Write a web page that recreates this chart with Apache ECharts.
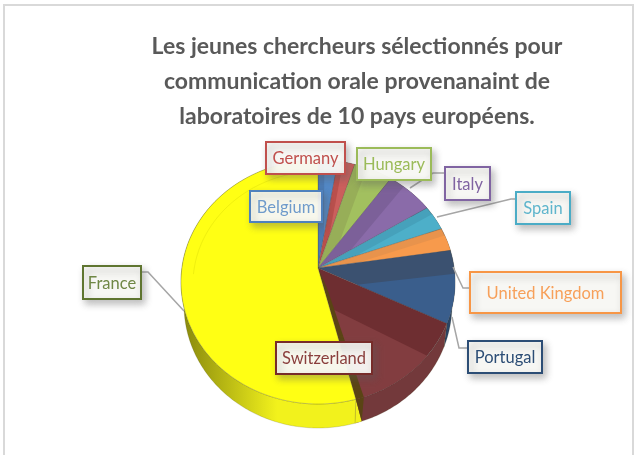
<!DOCTYPE html>
<html>
<head>
<meta charset="utf-8">
<style>
  html, body { margin: 0; background: #fff; }
  #chart { width: 635px; height: 455px; }
</style>
<script src="https://cdn.jsdelivr.net/npm/echarts@6/dist/echarts.min.js"></script>
</head>
<body>
<div id="chart"></div>
<script>
// clockwise from 12 o'clock
const categories = ['Belgium', 'Germany', 'Hungary', 'Italy', 'Spain', 'United Kingdom', 'Portugal', 'Switzerland', 'France']
const values = [2.3, 2.0, 4.6, 5.7, 3.2, 3.0, 9.7, 15.0, 54.4]

const darkColors = ['#4a79b3', '#b94f4c', '#97ae58', '#7c6099', '#46a1bb', '#e8934c', '#3b5170', '#6e2e31', '#ffff14']
const lightColors = ['#5288c6', '#cb5f5c', '#a2c05f', '#8a6ba9', '#4dafc9', '#f79a4c', '#3a5e8c', '#823d40', '#ffff14']
const wallColors = ['#3e6595', '#8c3a38', '#71893f', '#5c4778', '#357f93', '#b66e34', '#2b4565', '#73393b', '#f0f01c']
const labelColors = ['#6f9bcb', '#c0504d', '#9bbb59', '#8064a2', '#5fb5cc', '#f7a05a', '#2c4d75', '#8a3f3d', '#6f8745']

// x, y, w, h of each label box, in the order of categories
const labelBoxes = [
  [250, 191, 72, 31], [266, 142, 79, 32], [357, 148, 74, 32],
  [445, 167, 45, 33], [516, 192, 54, 32], [470, 272, 151, 41],
  [468, 341, 74, 32], [276, 342, 96, 32], [83, 266, 58, 33]
]
const borderColors = ['#4f81bd', '#c0504d', '#9bbb59', '#8064a2', '#4bacc6', '#f79646', '#2c4d75', '#772c2a', '#5f7530']
const leaders = [
  null, null, null,
  [[445, 173], [433, 173], [410, 188]],
  [[516, 199], [511, 199], [437, 217]],
  [[470, 288], [463, 288], [453, 267]],
  [[468, 348], [459, 348], [452, 317]],
  null,
  [[142, 272], [148, 272], [184, 311]]
]

const apex = [318, 268]
const topRim = { cx: 318, cy: 282, rx: 137, ry: 122 }
const lowRim = { cx: 318, cy: 305, rx: 134, ry: 123 }
const ringRim = { cx: 320, cy: 284, rx: 127, ry: 113 }

const total = values.reduce((a, b) => a + b, 0)
const starts = []
values.reduce((sum, v, i) => {
  starts[i] = sum / total * 360
  return sum + v
}, 0)

function rimPoint(rim, deg) {
  const r = deg * Math.PI / 180
  return [rim.cx + rim.rx * Math.sin(r), rim.cy - rim.ry * Math.cos(r)]
}

function arc(rim, from, to) {
  const pts = []
  const n = Math.max(2, Math.ceil(to - from))
  for (let i = 0; i <= n; i++) pts.push(rimPoint(rim, from + (to - from) * i / n))
  return pts
}

function renderWall(params, api) {
  const i = api.value(0)
  const from = starts[i]
  const to = from + api.value(1) / total * 360
  const fill = i === 8
    ? { type: 'linear', x: 0, y: 0, x2: 0.55, y2: 0, colorStops: [{ offset: 0, color: '#86860c' }, { offset: 1, color: '#f2f21c' }] }
    : wallColors[i]
  const children = [{
    type: 'polygon',
    shape: { points: arc(topRim, from, to).concat(arc(lowRim, from, to).reverse()) },
    style: { fill: fill, stroke: 'rgba(60,60,20,0.35)', lineWidth: 0.5 }
  }]
  if (i === 7) {
    // where Switzerland meets France: a bit of yellow wall, then a dark seam
    const a = rimPoint(topRim, to)
    const b = arc(lowRim, to - 3, to)
    children.push({
      type: 'polygon',
      shape: { points: [a].concat(b) },
      style: { fill: '#f2f21c' }
    })
    children.push({
      type: 'polygon',
      shape: { points: [a, [a[0] + 8, a[1] - 2], b[0]] },
      style: { fill: '#5a4414' }
    })
  }
  return { type: 'group', children: children }
}

function renderTop(params, api) {
  const i = api.value(0)
  const from = starts[i]
  const span = api.value(1) / total * 360
  const to = from + span
  const endPt = rimPoint(topRim, to)
  const inner = [apex[0] + (endPt[0] - apex[0]) * 0.3, apex[1] + (endPt[1] - apex[1]) * 0.3]
  const children = [{
    type: 'polygon',
    shape: { points: [apex].concat(arc(topRim, from, to)) },
    style: { fill: darkColors[i], stroke: 'rgba(70,70,70,0.45)', lineWidth: 0.6 }
  }]
  if (i !== 8) {
    children.push({
      type: 'polygon',
      shape: { points: [inner].concat(arc(topRim, from + span * 0.32, to)) },
      style: { fill: lightColors[i] }
    })
  } else {
    // faint bevel line on the yellow slice
    children.push({
      type: 'polyline',
      shape: { points: arc(ringRim, 275, 360) },
      style: { fill: null, stroke: 'rgba(190,190,0,0.25)', lineWidth: 1 }
    })
  }
  if (i === 7) {
    const a = [apex[0] + 9, apex[1] + 20]
    children.push({
      type: 'polygon',
      shape: { points: [apex, a, [endPt[0] + 8, endPt[1] - 2], endPt] },
      style: { fill: '#5a4414' }
    })
  }
  return { type: 'group', children: children }
}

const seriesData = categories.map((name, i) => [i, values[i]])

const graphicElements = []
categories.forEach((name, i) => {
  if (leaders[i]) {
    graphicElements.push({
      type: 'polyline',
      z: 10,
      shape: { points: leaders[i] },
      style: { fill: null, stroke: '#a6a6a6', lineWidth: 1.5 }
    })
  }
})
categories.forEach((name, i) => {
  const box = labelBoxes[i]
  graphicElements.push({
    type: 'rect',
    z: 11,
    shape: { x: box[0], y: box[1], width: box[2], height: box[3] },
    style: {
      fill: 'rgba(250,250,247,0.95)',
      stroke: borderColors[i],
      lineWidth: 2,
      shadowBlur: 7,
      shadowOffsetX: 3,
      shadowOffsetY: 4,
      shadowColor: 'rgba(90,90,90,0.4)'
    }
  })
  graphicElements.push({
    type: 'text',
    z: 12,
    x: box[0] + box[2] / 2,
    y: box[1] + box[3] / 2 + 1,
    style: {
      text: name,
      fill: labelColors[i],
      font: '16.5px Lato',
      align: 'center',
      verticalAlign: 'middle'
    }
  })
})
graphicElements.push({
  type: 'polyline',
  z: 1,
  shape: { points: [[4, 455], [4, 5], [633, 5], [633, 455]] },
  style: { fill: null, stroke: '#d9d9d9', lineWidth: 2 }
})

const chart = echarts.init(document.getElementById('chart'), null, { renderer: 'canvas' })
chart.setOption({
  animation: false,
  backgroundColor: '#fff',
  title: {
    text: 'Les jeunes chercheurs sélectionnés pour\ncommunication orale provenanaint de\nlaboratoires de 10 pays européens.',
    left: 352,
    top: 24,
    textAlign: 'center',
    textStyle: { fontFamily: 'Lato', fontSize: 23, fontWeight: 'bold', color: '#595959', lineHeight: 35 }
  },
  graphic: { elements: graphicElements },
  series: [
    { type: 'custom', coordinateSystem: 'none', z: 2, renderItem: renderWall, data: seriesData, silent: true },
    { type: 'custom', coordinateSystem: 'none', z: 3, renderItem: renderTop, data: seriesData, silent: true }
  ]
})
</script>
</body>
</html>
